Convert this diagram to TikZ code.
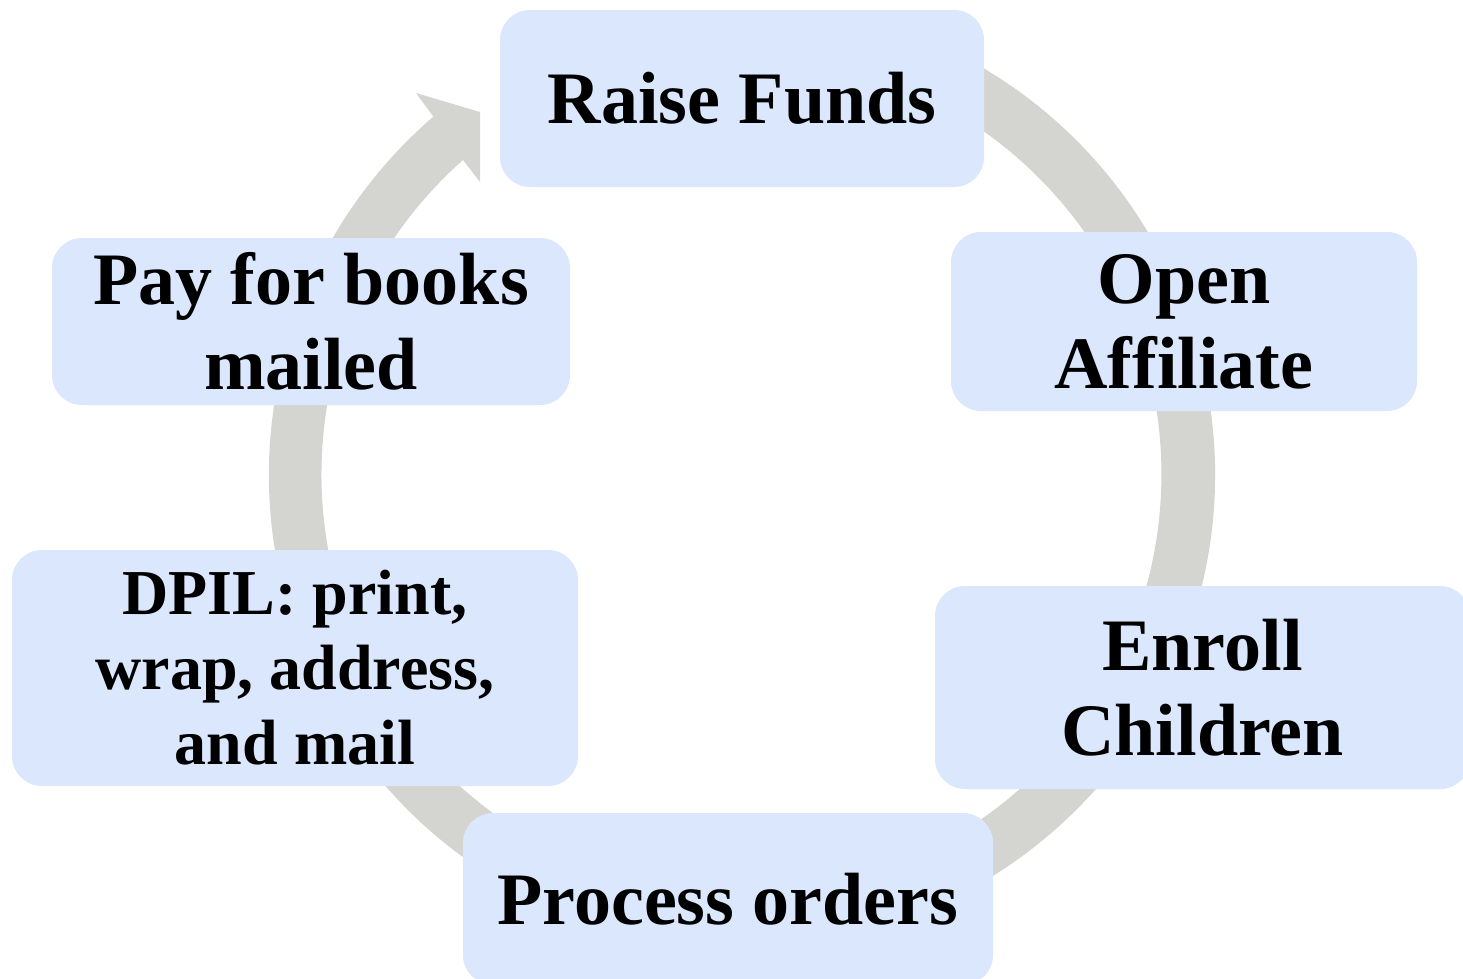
\documentclass[tikz,border=0pt]{standalone}
\usepackage{fontspec}
\setmainfont{Liberation Serif}
\definecolor{boxblue}{RGB}{218,231,252}
\definecolor{ringgray}{RGB}{212,213,209}
\tikzset{
  stepbox/.style={fill=boxblue, draw=none, rounded corners=30pt, align=center, inner sep=0pt,
    font=\bfseries\fontsize{74}{85}\selectfont},
  ring/.style={fill=ringgray, draw=none}
}
\begin{document}
\begin{tikzpicture}[x=1pt,y=-1pt]
\useasboundingbox (0,0) rectangle (1463,978);
% circular arrow
\fill[ring] (742,475) ++(-70:473) arc[start angle=-70,end angle=229.26,radius=473]
  -- (416,93) -- (480,112) -- (480,182) -- (463,160)
  arc[start angle=228.47,end angle=-70,radius=420] -- cycle;
% steps
\node[stepbox, minimum width=484pt, minimum height=177pt] (raise) at (742,98.5) {Raise Funds};
\node[stepbox, minimum width=466pt, minimum height=179pt] (open) at (1184,321.5) {Open\\Affiliate};
\node[stepbox, minimum width=535pt, minimum height=203pt] (enroll) at (1202.5,687.5) {Enroll\\Children};
\node[stepbox, minimum width=530pt, minimum height=172pt] (process) at (728,899) {Process orders};
\node[stepbox, minimum width=566pt, minimum height=236pt, font=\bfseries\fontsize{64}{75}\selectfont] (dpil) at (295,668) {DPIL: print,\\wrap, address,\\and mail};
\node[stepbox, minimum width=518pt, minimum height=167pt] (pay) at (311,321.5) {Pay for books\\mailed};
\end{tikzpicture}
\end{document}
